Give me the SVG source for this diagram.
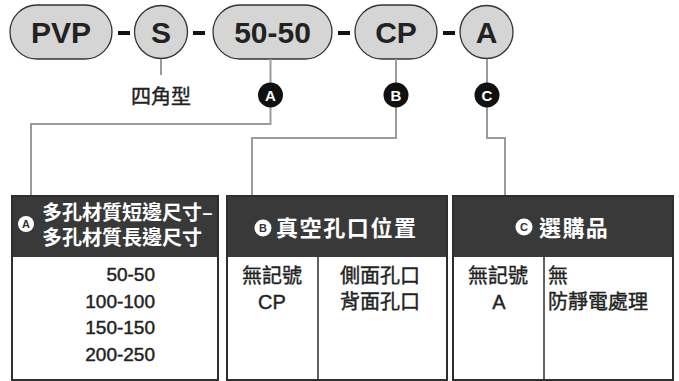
<svg xmlns="http://www.w3.org/2000/svg" width="679" height="381" viewBox="0 0 679 381">
<style>
.pill{fill:#d5d5d5;stroke:#333;stroke-width:1.3}
.pt{font-family:"Liberation Sans",Arial,sans-serif;font-weight:bold;font-size:30px;fill:#222;text-anchor:middle}
.dash{fill:#111}
.con{fill:none;stroke:#9b9b9b;stroke-width:2}
.badge{fill:#111}
.bt{font-family:"Liberation Sans",Arial,sans-serif;font-weight:bold;font-size:15px;fill:#fff;text-anchor:middle}
.wb{fill:#fff}
.wbt{font-family:"Liberation Sans",Arial,sans-serif;font-weight:bold;font-size:11px;fill:#333;text-anchor:middle}
.hdr{fill:#393939}
.frame{fill:none;stroke:#2e2e2e;stroke-width:2}
.div{stroke:#2e2e2e;stroke-width:1.5}
.ht{font-family:"Noto Sans CJK TC","Liberation Sans",sans-serif;font-weight:bold;fill:#fff}
.cj{font-family:"Liberation Sans","Noto Sans CJK TC",sans-serif;font-size:20px;fill:#222;stroke:#222;stroke-width:0.4}
.num{font-family:"Liberation Sans",Arial,sans-serif;font-size:19px;fill:#222;stroke:#222;stroke-width:0.45;text-anchor:end}
</style>

<g id="code">
  <g id="pvp"><rect class="pill" x="10" y="5" width="102" height="54" rx="27"/><text class="pt" x="61" y="43">PVP</text></g>
  <rect class="dash" x="118" y="31" width="12" height="4"/>
  <g id="s"><circle class="pill" cx="161" cy="32" r="26.5"/><text class="pt" x="161" y="43">S</text></g>
  <rect class="dash" x="193" y="31" width="12" height="4"/>
  <g id="size"><rect class="pill" x="213" y="5" width="119" height="54" rx="27"/><text class="pt" x="272.5" y="43">50-50</text></g>
  <rect class="dash" x="338" y="31" width="12" height="4"/>
  <g id="cp"><rect class="pill" x="355" y="5" width="82" height="54" rx="27"/><text class="pt" x="396" y="43">CP</text></g>
  <rect class="dash" x="443" y="31" width="12" height="4"/>
  <g id="a"><circle class="pill" cx="486.5" cy="32" r="26.5"/><text class="pt" x="486.5" y="43">A</text></g>
</g>

<g id="connectors">
  <path class="con" d="M161 59V75"/>
  <path class="con" d="M270.5 59V124H31V197"/>
  <path class="con" d="M396 59V138H252V197"/>
  <path class="con" d="M487 59V138H505V197"/>
</g>

<g id="label-s"><text class="cj" x="161" y="104" text-anchor="middle">四角型</text></g>

<g id="badge-a"><circle class="badge" cx="270.5" cy="95" r="12.5"/><text class="bt" x="270.5" y="100.5">A</text></g>
<g id="badge-b"><circle class="badge" cx="396" cy="95" r="12.5"/><text class="bt" x="396" y="100.5">B</text></g>
<g id="badge-c"><circle class="badge" cx="487" cy="95" r="12.5"/><text class="bt" x="487" y="100.5">C</text></g>

<g id="table-a">
  <rect class="hdr" x="12" y="196" width="206" height="61"/>
  <rect class="frame" x="12" y="196" width="206" height="184"/>
  <circle class="wb" cx="26" cy="224" r="8"/><text class="wbt" x="26" y="228">A</text>
  <text class="ht" font-size="20"><tspan x="42" y="220">多孔材質短邊尺寸–</tspan><tspan x="42" y="244.5">多孔材質長邊尺寸</tspan></text>
  <text class="num" x="155" y="281">50-50</text>
  <text class="num" x="155" y="308">100-100</text>
  <text class="num" x="155" y="334">150-150</text>
  <text class="num" x="155" y="361">200-250</text>
</g>

<g id="table-b">
  <rect class="hdr" x="227" y="196" width="220" height="61"/>
  <rect class="frame" x="227" y="196" width="220" height="184"/>
  <line class="div" x1="318" y1="257" x2="318" y2="380"/>
  <circle class="wb" cx="263" cy="228" r="8.5"/><text class="wbt" x="263" y="232">B</text>
  <text class="ht" x="276" y="236" font-size="22" letter-spacing="1.6">真空孔口位置</text>
  <text class="cj" x="272" y="283" text-anchor="middle">無記號</text>
  <text class="cj" x="272" y="309" text-anchor="middle">CP</text>
  <text class="cj" x="380" y="283" text-anchor="middle">側面孔口</text>
  <text class="cj" x="380" y="309" text-anchor="middle">背面孔口</text>
</g>

<g id="table-c">
  <rect class="hdr" x="453" y="196" width="220" height="61"/>
  <rect class="frame" x="453" y="196" width="220" height="184"/>
  <line class="div" x1="544" y1="257" x2="544" y2="380"/>
  <circle class="wb" cx="524" cy="227" r="8.5"/><text class="wbt" x="524" y="231">C</text>
  <text class="ht" x="539" y="235.5" font-size="22" letter-spacing="1.4">選購品</text>
  <text class="cj" x="498" y="283" text-anchor="middle">無記號</text>
  <text class="cj" x="499" y="309" text-anchor="middle">A</text>
  <text class="cj" x="548" y="283">無</text>
  <text class="cj" x="548" y="309">防靜電處理</text>
</g>
</svg>
